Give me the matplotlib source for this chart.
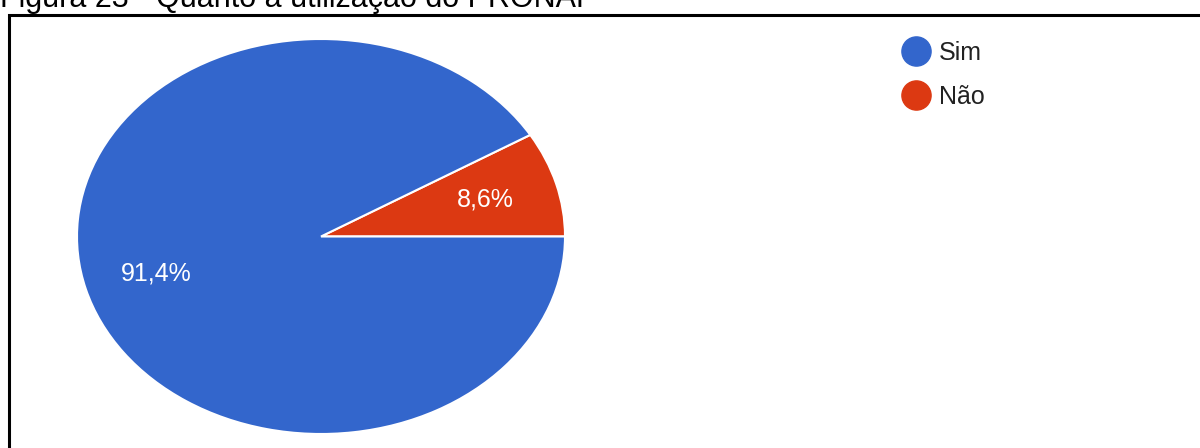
import matplotlib.pyplot as plt
import matplotlib.patches as mpatches
from matplotlib.lines import Line2D

labels = ["Não", "Sim"]
values = [8.6, 91.4]
colors = ["#DC3912", "#3366CC"]
legend_order = ["Sim", "Não"]
title = "Figura 23 - Quanto à utilização do PRONAF"

plt.rcParams['font.family'] = ['Liberation Sans', 'DejaVu Sans']

fig = plt.figure(figsize=(12, 4.48), dpi=100)

# pie stretched into an ellipse, like the reference
ax = fig.add_axes([77/1200, 14/448, 488/1200, 395/448])
wedges, texts, autotexts = ax.pie(values, colors=colors, startangle=0, counterclock=True,
	autopct=lambda p: ("%.1f%%" % p).replace(".", ","), pctdistance=0.7,
	wedgeprops=dict(edgecolor='white', linewidth=1.5),
	textprops=dict(color='white', fontsize=18))
ax.set_aspect('auto')
ax.set_xlim(-1, 1)
ax.set_ylim(-1, 1)
ax.axis('off')

# legend
handles = []
for lab in legend_order:
	c = colors[labels.index(lab)]
	handles.append(Line2D([], [], marker='o', linestyle='none', markersize=21,
		markerfacecolor=c, markeredgecolor=c, label=lab))
fig.legend(handles=handles, loc='upper left', bbox_to_anchor=(888/1200, 1 - 28/448),
	frameon=False, fontsize=18, handletextpad=0.35, labelspacing=0.8,
	borderpad=0, handlelength=1.2, labelcolor='#222222')

# caption cut at top, and frame
fig.text(0.0, 1 - 7/448, title, fontsize=22, va='baseline', ha='left', color='black')
fig.add_artist(mpatches.Rectangle((8.5/1200, -0.2), 1.2, 1.2 - 14.5/448,
	transform=fig.transFigure, fill=False, edgecolor='black', linewidth=2.2))

fig.savefig("out.png", dpi=100)
